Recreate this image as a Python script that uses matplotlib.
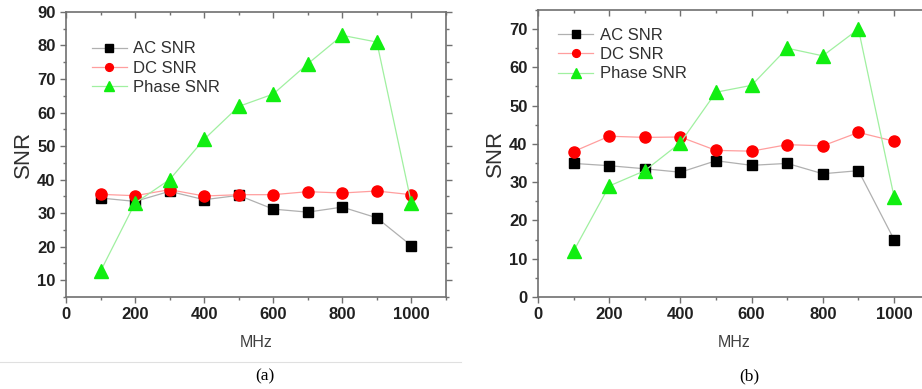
import numpy as np
import matplotlib.pyplot as plt
from matplotlib.lines import Line2D
from matplotlib.ticker import MultipleLocator

freq = [100, 200, 300, 400, 500, 600, 700, 800, 900, 1000]

ac_a = [34.5, 33.5, 36.5, 34.0, 35.3, 31.2, 30.3, 31.8, 28.6, 20.3]
dc_a = [35.6, 35.2, 37.0, 35.1, 35.5, 35.5, 36.4, 36.0, 36.6, 35.5]
ph_a = [12.7, 33.0, 40.0, 52.0, 61.8, 65.5, 74.5, 83.0, 81.0, 33.0]

ac_b = [34.9, 34.3, 33.5, 32.6, 35.6, 34.4, 34.9, 32.2, 33.0, 15.0]
dc_b = [38.0, 42.0, 41.7, 41.8, 38.3, 38.1, 39.8, 39.5, 43.0, 40.7]
ph_b = [12.0, 29.0, 33.0, 40.3, 53.5, 55.3, 65.0, 63.0, 70.0, 26.2]

labels = ['AC SNR', 'DC SNR', 'Phase SNR']
captions = ['(a)', '(b)']

plt.rcParams['font.family'] = ['Liberation Sans', 'DejaVu Sans']

fig = plt.figure(figsize=(9.22, 3.89), dpi=100)
ax1 = fig.add_axes([0.0716, 0.2365, 0.412, 0.733])
ax2 = fig.add_axes([0.5835, 0.2365, 0.4248, 0.738])

styles = [
    dict(marker='s', mfc='black', mec='black', color='#b0b0b0', ms=7.5),
    dict(marker='o', mfc='red', mec='red', color='#ff9e9e', ms=8),
    dict(marker='^', mfc='#11ee11', mec='#11ee11', color='#a0f0a0', ms=10),
]

def draw(ax, series, ylim, ytop, anchor):
    for vals, st, lab in zip(series, styles, labels):
        ax.plot(freq, vals, lw=0.9, label=lab, **st)
    ax.set_xlim(0, 1100)
    ax.set_ylim(*ylim)
    ax.xaxis.set_major_locator(MultipleLocator(200))
    ax.xaxis.set_minor_locator(MultipleLocator(100))
    ax.yaxis.set_minor_locator(MultipleLocator(5))
    ax.set_yticks(np.arange(ylim[0] if ylim[0] % 10 == 0 else 10, ytop + 1, 10))
    for sp in ax.spines.values():
        sp.set_color('#707070')
        sp.set_linewidth(1.2)
    ax.tick_params(which='both', direction='out', colors='#707070',
                   labelcolor='#202020', labelsize=12, width=1)
    ax.tick_params(which='major', length=4)
    ax.tick_params(which='minor', length=2.5)
    for t in ax.get_xticklabels() + ax.get_yticklabels():
        t.set_fontweight('bold')
    ax.tick_params(which='both', top=True, right=True, labeltop=False, labelright=False)
    ax.set_xlabel('MHz', fontsize=11.5, color='#404040', labelpad=9)
    ax.set_ylabel('SNR', fontsize=16, color='#303030', labelpad=2)
    handles = [Line2D([], [], lw=0.9, color=st['color'], marker=st['marker'],
                      mfc=st['mfc'], mec=st['mec'], ms=st['ms'] * 0.7) for st in styles]
    ax.legend(handles, labels, loc='upper left', frameon=False, fontsize=12,
              handlelength=2.1, handletextpad=0.4, labelspacing=0.25,
              borderaxespad=0.0, bbox_to_anchor=anchor, labelcolor='#303030')

draw(ax1, [ac_a, dc_a, ph_a], (5, 90), 90, (0.05, 0.92))
draw(ax2, [ac_b, dc_b, ph_b], (0, 75), 70, (0.035, 0.96))

# top and right ticks point inward
for ax in (ax1, ax2):
    for tk in ax.xaxis.get_major_ticks() + ax.xaxis.get_minor_ticks():
        tk.tick2line.set_marker(3)
    for tk in ax.yaxis.get_major_ticks() + ax.yaxis.get_minor_ticks():
        tk.tick2line.set_marker(1)

fig.add_artist(Line2D([0.0, 0.5], [1 - 362 / 389] * 2, color='#e0e0e0', lw=0.8))
fig.text(265 / 922, 1 - 376 / 389, captions[0], ha='center', va='center',
         fontsize=12.5, family='Liberation Serif')
fig.text(749 / 922, 1 - 376 / 389, captions[1], ha='center', va='center',
         fontsize=12.5, family='Liberation Serif')

fig.savefig('out.png', dpi=100)
